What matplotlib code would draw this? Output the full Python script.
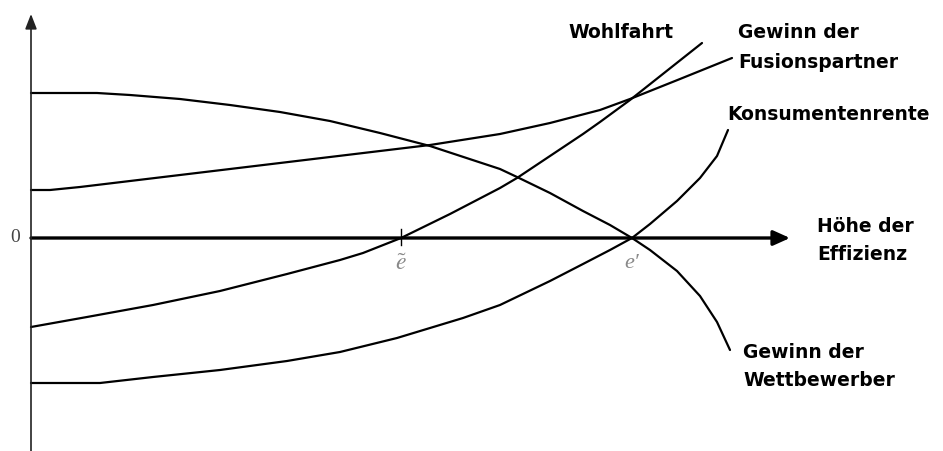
import matplotlib.pyplot as plt

plt.rcParams['mathtext.fontset'] = 'stix'

# Curves: x = efficiency level, y = value (0 = axis)
eff_wett = [0, 66, 99, 149, 199, 249, 299, 349, 399, 469, 486, 519, 552,
            579, 601, 619, 646, 669, 686, 699]
val_wett = [145, 145, 143, 139, 133, 126, 117, 105, 92, 69, 61, 45, 27,
            13, 0, -12, -33, -58, -84, -112]

eff_fusion = [0, 19, 49, 99, 149, 199, 249, 299, 399, 469, 519, 569, 599,
              649, 701]
val_fusion = [48, 48, 51, 57, 63, 69, 75, 81, 93, 104, 115, 128, 139,
              159, 180]

eff_wohl = [0, 56, 122, 189, 256, 309, 332, 370, 419, 469, 486, 519, 552,
            569, 599, 671]
val_wohl = [-89, -79, -67, -53, -36, -22, -15, 0, 24, 50, 60, 82, 104,
            116, 138, 195]

eff_kons = [0, 69, 122, 189, 256, 309, 366, 432, 469, 519, 552, 579, 601,
            619, 646, 669, 686, 697]
val_kons = [-145, -145, -139, -132, -123, -114, -100, -80, -67, -43, -26,
            -12, 0, 14, 37, 60, 82, 108]

e_tilde = 370
e_prime = 601

fig = plt.figure(figsize=(9.43, 4.51), dpi=100)
ax = fig.add_axes([0, 0, 1, 1])
ax.set_xlim(-31, 912)
ax.set_ylim(-213, 238)
ax.axis('off')

# axes with arrow heads
ax.annotate('', xy=(759, 0), xytext=(0, 0),
            arrowprops=dict(arrowstyle='-|>,head_length=1.0,head_width=0.45',
                            lw=2.4, color='black', shrinkA=0, shrinkB=0))
ax.annotate('', xy=(0, 224), xytext=(0, -213),
            arrowprops=dict(arrowstyle='-|>,head_length=0.9,head_width=0.35',
                            lw=1.2, color='#222222', shrinkA=0, shrinkB=0))

# curves
for xs, ys in [(eff_wett, val_wett), (eff_fusion, val_fusion),
               (eff_wohl, val_wohl), (eff_kons, val_kons)]:
    ax.plot(xs, ys, color='black', lw=1.6, solid_capstyle='round',
            solid_joinstyle='round')

# tick at e-tilde
ax.plot([e_tilde, e_tilde], [9, -7], color='black', lw=1.0)

# axis marks
ax.text(-16, 0, '0', ha='center', va='center', fontsize=14,
        family='Liberation Serif', color='#444444')
ax.text(e_tilde, -25, r'$\tilde{e}$', ha='center', va='center', fontsize=17,
        color='#888888')
ax.text(e_prime, -25, 'e\u2032', ha='center', va='center', fontsize=16,
        family='Liberation Serif', style='italic', color='#888888')

# curve labels
lab = dict(fontsize=13.5, fontweight='bold', ha='left', va='center',
           family='DejaVu Sans', color='black')
ax.text(537, 205, 'Wohlfahrt', **lab)
ax.text(707, 205, 'Gewinn der', **lab)
ax.text(707, 176, 'Fusionspartner', **lab)
ax.text(696, 123, 'Konsumentenrente', **lab)
ax.text(786, 11, 'Höhe der', **lab)
ax.text(786, -16, 'Effizienz', **lab)
ax.text(712, -114, 'Gewinn der', **lab)
ax.text(712, -142, 'Wettbewerber', **lab)

fig.savefig('out.png', dpi=100)
